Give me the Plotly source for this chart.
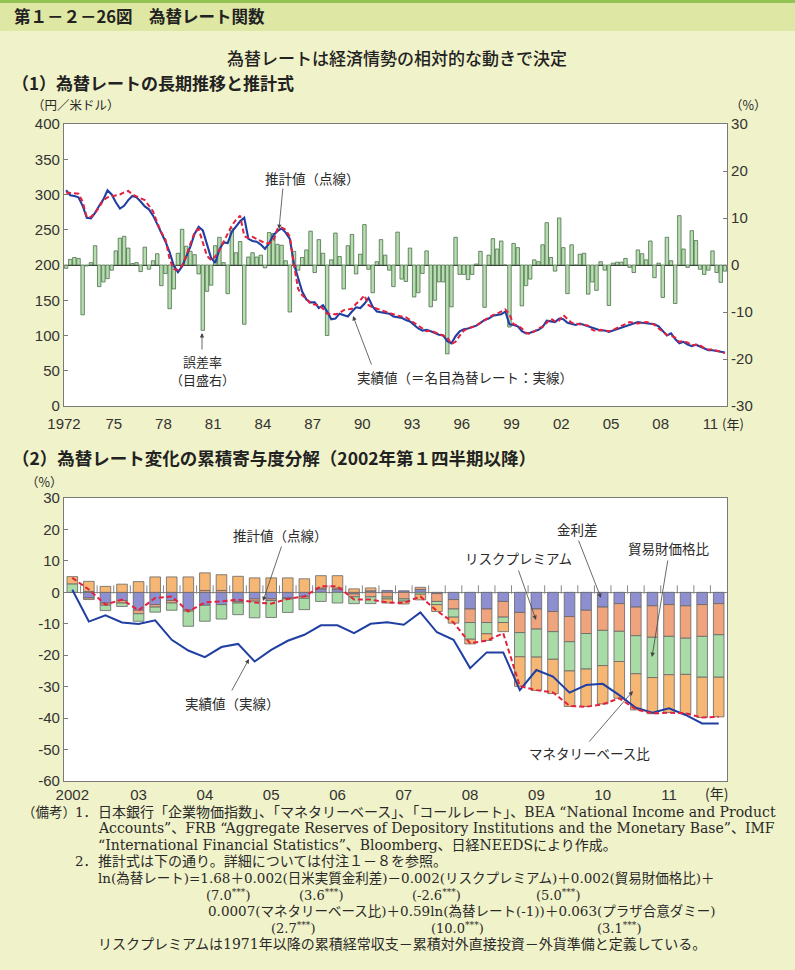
import plotly.graph_objects as go

# ================= DATA =================
# (1) quarterly, 1972Q1 - 2011Q4
top_years = [1972, 1975, 1978, 1981, 1984, 1987, 1990, 1993, 1996, 1999, 2002, 2005, 2008, 2011]
top_year_labels = ["1972", "75", "78", "81", "84", "87", "90", "93", "96", "99", "02", "05", "08", "11"]

error_rate = [  # 誤差率 (%), right axis
    -0.7, 1.2, 1.6, 1.4,     -10.6, -0.2, 0.5, 4.1,    -4.6, -3.6, -2.9, -1.1,   3.0, 5.7, 6.1, 3.6,
    0.3, 0.5, -1.4, 3.8,     -0.9, 0.9, 2.4, -4.4,     -1.8, -9.3, -5.1, 2.5,    7.6, 4.0, 2.9, 2.2,
    -1.9, -13.9, -5.6, -4.3, 4.1, 5.9, 0.5, -6.1,      7.8, 2.6, 5.0, -12.6,     1.7, 2.6, 1.7, 2.1,
    -0.6, 6.9, 6.7, 4.4,     4.2, 0.9, -10.0, 2.9,     -1.1, 1.6, 3.2, 7.2,      -1.6, 5.4, 2.5, -15.0,
    1.1, 6.8, 1.8, -5.1,     4.1, 6.5, -1.9, 2.3,      8.6, -0.9, -5.9, 0.7,     5.4, 2.1, -1.1, -4.6,
    7.0, -3.0, -3.5, 3.6,    -6.8, -5.9, -1.8, 3.0,    -8.9, -7.5, -3.6, -3.6,   -18.9, -8.9, 5.9, -2.0,
    -2.0, -3.1, -2.0, 0.2,   2.9, -9.0, 2.1, 5.6,      3.4, 5.1, 0.0, -13.2,     4.6, 3.7, -8.7, -4.4,
    -3.0, 1.1, 0.7, 4.3,     9.0, 1.6, -1.3, 10.0,     3.7, -6.1, 4.3, 0.0,      2.3, 2.5, -6.2, -3.6,
    -5.4, 0.7, -1.1, -8.6,   0.4, 0.6, 0.6, 1.4,       -0.5, -1.6, 3.2, 2.4,     1.1, 5.1, -2.7, 0.4,
    -6.9, 5.9, 0.9, -8.2,    10.5, 3.4, -0.5, 7.3,     5.2, -0.9, -2.0, -1.1,    3.0, -1.6, -3.7, -1.3,
]

actual_rate = [  # 実績値 (円/米ドル)
    306, 299, 298, 296,  284, 267, 266, 274,  284, 293, 306, 300,  289, 280, 284, 292,
    298, 296, 290, 283,  279, 270, 258, 246,  233, 218, 199, 190,  198, 212, 226, 244,
    254, 249, 228, 210,  203, 222, 232, 231,  247, 255, 262, 267,  237, 234, 233, 229,
    223, 231, 242, 248,  252, 246, 237, 201,  182, 162, 151, 147,  147, 139, 143, 134,
    123, 124, 131, 129,  127, 134, 140, 139,  145, 153, 141, 134,  133, 133, 131, 127,
    126, 125, 122, 120,  115, 110, 107, 108,  106, 103, 101, 100,  92, 89, 99, 106,
    109, 110, 112, 114,  118, 122, 124, 128,  129, 130, 134, 116,  115, 113, 106, 103,
    104, 106, 108, 112,  121, 120, 119, 124,  123, 118, 117, 115,  117, 115, 112, 110,
    108, 107, 107, 105,  107, 109, 111, 114,  116, 118, 119, 118,  117, 117, 116, 113,
    106, 100, 103, 95,   89, 91, 87, 85,      87, 84, 82, 79,      79, 78, 77, 76,
]

estimated_rate = [  # 推計値 (円/米ドル)
    303, 302, 302, 301,  290, 268, 268, 274,  282, 292, 296, 297,  299, 300, 303, 305,
    300, 297, 295, 292,  284, 276, 260, 246,  236, 208, 194, 193,  199, 213, 230, 246,
    251, 231, 213, 207,  212, 221, 233, 244,  256, 264, 270, 241,  238, 240, 237, 233,
    231, 231, 234, 251,  253, 250, 240, 200,  166, 157, 152, 145,  144, 143, 138, 131,
    131, 130, 132, 136,  137, 138, 145, 150,  157, 143, 140, 138,  136, 134, 131, 129,
    128, 127, 126, 122,  118, 113, 110, 106,  107, 104, 102, 100,  97, 88, 91, 100,
    107, 110, 112, 114,  118, 122, 126, 129,  131, 134, 137, 130,  116, 114, 110, 104,
    102, 106, 109, 113,  118, 124, 120, 121,  129, 123, 118, 117,  116, 116, 114, 108,
    106, 108, 107, 106,  108, 111, 114, 117,  119, 118, 117, 118,  119, 118, 115, 110,
    106, 101, 100, 97,   91, 92, 90, 86,      87, 86, 82, 80,      80, 79, 77, 75,
]

# (2) quarterly, 2002Q1 - 2011Q4 (cumulative contributions, %)
bottom_years = [2002, 2003, 2004, 2005, 2006, 2007, 2008, 2009, 2010, 2011]
bottom_year_labels = ["2002", "03", "04", "05", "06", "07", "08", "09", "10", "11"]

interest_diff = [  # 金利差
    0.0, -1.8, -3.4, -2.6,  -5.7, -3.9, -2.6, -5.5,  -4.1, -3.9, -2.9, -2.1,  -2.1, -1.8, -1.3, 1.0,
    0.9, -0.5, 0.5, 0.6,    0.5, 0.9, -0.4, -2.3,    -5.3, -5.3, -2.9, -6.4,  -5.3, -6.1, -7.7, -5.7,
    -4.7, -3.6, -4.7, -4.3, -3.9, -4.3, -3.9, -3.6,
]
risk_premium = [  # リスクプレミアム
    0.0, -0.5, -0.7, -0.8,  -1.1, -0.8, -0.8, -0.5,  0.6, 0.6, -0.5, -0.7,   -0.5, -0.3, -0.6, 0.4,
    0.5, -0.9, -1.4, -1.5,  -2.1, 0.7, -2.5, -3.0,   -4.3, -4.3, -5.0, -6.4,  -6.4, -6.4, -8.0, -7.4,
    -7.4, -8.8, -9.1, -10.0, -10.1, -10.3, -10.1, -9.9,
]
trade_price_ratio = [  # 貿易財価格比
    2.7, 0.3, -1.7, -1.1,   -2.4, -1.6, -2.3, -4.8,  -5.1, -4.6, -3.7, -5.3,  -5.4, -4.3, -3.6, -2.9,
    -3.4, -2.2, -2.2, -0.6, -0.7, -0.6, -1.0, -2.6,  -5.3, -3.6, -1.7, -7.7,  -8.9, -8.8, -9.3, -11.3,
    -11.2, -9.6, -12.1, -12.8, -12.2, -11.5, -13.0, -13.5,
]
monetary_base_ratio = [  # マネタリーベース比
    2.3, 3.2, 1.9, 2.6,     3.4, 4.9, 4.9, 4.9,      5.6, 5.0, 5.1, 4.6,      4.6, 4.6, 4.3, 3.9,
    3.9, 1.1, 0.9, -1.3,    -0.9, -1.8, -2.2, -1.9,  -1.5, -2.1, -2.9, -9.4,  -10.6, -10.9, -11.3, -11.9,
    -12.2, -11.7, -11.5, -11.5, -12.0, -12.4, -12.8, -12.6,
]
actual_cum = [  # 実績値
    0.8, -9.3, -7.3, -9.6,  -10.1, -8.9, -15.1, -18.5,  -20.6, -17.4, -16.4, -22.0,  -18.3, -15.4, -13.5, -10.5,
    -10.5, -13.0, -10.0, -9.5,  -10.3, -6.4, -12.7, -15.1,  -24.1, -19.1, -19.1, -31.1,  -24.7, -26.8, -31.9, -29.5,
    -29.1, -32.7, -36.7, -38.3,  -36.9, -39.0, -41.7, -41.7,
]
estimated_cum = [  # 推計値
    4.6, 0.9, -3.9, -2.3,   -5.7, -1.8, -1.3, -6.1,   -3.2, -2.9, -2.3, -3.2,   -3.6, -2.1, -1.3, 1.9,
    1.9, -2.3, -2.3, -3.2,  -3.4, -1.3, -5.9, -9.6,   -16.2, -15.4, -13.0, -29.8,  -31.1, -31.8, -36.1, -36.4,
    -35.6, -33.7, -37.2, -38.5,  -38.3, -38.5, -39.8, -39.6,
]

# ================= GEOMETRY =================
W, H = 795, 970
L, R, T, B = 64, 727, 124, 781
TOP_BOTTOM_PX, BOT_TOP_PX = 406, 498


def px(x):
    return (x - L) / (R - L)


def py(y):
    return (B - y) / (B - T)


q_top = list(range(len(error_rate)))
q_bot = list(range(len(interest_diff)))

TICKFONT = dict(family="Liberation Sans, Arial, sans-serif", size=15, color="#333333")
JP = "Noto Sans CJK JP, sans-serif"
AXCOL = "#7a7a7a"

fig = go.Figure()

# ---- (1) bars: error rate (right axis)
fig.add_trace(go.Bar(
    x=q_top, y=error_rate, xaxis="x", yaxis="y", width=0.84,
    marker=dict(color="#b6deaf", line=dict(color="#4e6e4c", width=0.8)),
    name="誤差率", showlegend=False))
# ---- (1) lines (left axis)
fig.add_trace(go.Scatter(
    x=q_top, y=actual_rate, xaxis="x", yaxis="y2", mode="lines",
    line=dict(color="#1f3fa2", width=2.1), name="実績値", showlegend=False))
fig.add_trace(go.Scatter(
    x=q_top, y=estimated_rate, xaxis="x", yaxis="y2", mode="lines",
    line=dict(color="#e3213e", width=2, dash="5px,3px"), name="推計値", showlegend=False))

# ---- (2) stacked bars
comp = [
    (interest_diff, "#8d8fd0", "金利差"),
    (risk_premium, "#f0a47e", "リスクプレミアム"),
    (trade_price_ratio, "#a9dba6", "貿易財価格比"),
    (monetary_base_ratio, "#f6b775", "マネタリーベース比"),
]
for vals, col, nm in comp:
    fig.add_trace(go.Bar(
        x=q_bot, y=vals, xaxis="x2", yaxis="y3", width=0.64,
        marker=dict(color=col, line=dict(color="#666666", width=0.8)),
        name=nm, showlegend=False))

# quarter tick marks on the zero line
fig.add_trace(go.Scatter(
    x=[i + 0.5 for i in q_bot[:-1]], y=[0.9] * (len(q_bot) - 1), xaxis="x2", yaxis="y3",
    mode="markers", marker=dict(symbol="line-ns", size=6, line=dict(color="#888888", width=1)),
    showlegend=False, hoverinfo="skip"))

fig.add_trace(go.Scatter(
    x=q_bot, y=actual_cum, xaxis="x2", yaxis="y3", mode="lines",
    line=dict(color="#1f3fa2", width=2), name="実績値", showlegend=False))
fig.add_trace(go.Scatter(
    x=q_bot, y=estimated_cum, xaxis="x2", yaxis="y3", mode="lines",
    line=dict(color="#e3213e", width=2, dash="5px,3px"), name="推計値", showlegend=False))

top_dom = [py(TOP_BOTTOM_PX), 1.0]
bot_dom = [0.0, py(BOT_TOP_PX)]

fig.update_layout(
    width=W, height=H,
    margin=dict(l=L, r=W - R, t=T, b=H - B, autoexpand=False),
    paper_bgcolor="#f0f2c9", plot_bgcolor="#ffffff",
    barmode="relative", showlegend=False,
    font=dict(family=JP, color="#333333"),
    xaxis=dict(domain=[0, 1], anchor="y", range=[-0.5, len(q_top) - 0.5],
               tickvals=[(y - 1972) * 4 - 0.5 for y in top_years], ticktext=top_year_labels,
               tickfont=TICKFONT, showline=True, mirror=True, linecolor=AXCOL, linewidth=1.2,
               ticks="", ticklabelstandoff=4, showgrid=False, zeroline=False),
    yaxis=dict(domain=top_dom, anchor="x", side="right", range=[-30, 30],
               tickvals=[-30, -20, -10, 0, 10, 20, 30],
               ticktext=["-30", "-20", "-10", "0", "10", "20", "30"],
               tickfont=TICKFONT, ticks="inside", ticklen=4, tickcolor=AXCOL,
               showline=True, mirror=True, linecolor=AXCOL, linewidth=1.2,
               showgrid=False, zeroline=True, zerolinecolor="#333333", zerolinewidth=1),
    yaxis2=dict(overlaying="y", anchor="x", side="left", range=[0, 400],
                tickvals=list(range(0, 401, 50)), tickfont=TICKFONT,
                ticks="inside", ticklen=4, tickcolor=AXCOL,
                showline=True, linecolor=AXCOL, linewidth=1.2, showgrid=False, zeroline=False),
    xaxis2=dict(domain=[0, 1], anchor="y3", range=[-0.5, len(q_bot) - 0.5],
                tickvals=[(y - 2002) * 4 for y in bottom_years], ticktext=bottom_year_labels,
                tickfont=TICKFONT, showline=True, mirror=True, linecolor=AXCOL, linewidth=1.2,
                ticks="", showgrid=False, zeroline=False),
    yaxis3=dict(domain=bot_dom, anchor="x2", range=[-60, 30],
                tickvals=list(range(-60, 31, 10)),
                ticktext=[str(v) for v in range(-60, 31, 10)],
                tickfont=TICKFONT, ticks="inside", ticklen=4, tickcolor=AXCOL,
                showline=True, mirror=True, linecolor=AXCOL, linewidth=1.2,
                showgrid=False, zeroline=True, zerolinecolor="#888888", zerolinewidth=1),
)

# header band
fig.add_shape(type="rect", xref="paper", yref="paper", x0=px(0), x1=px(W), y0=py(31), y1=py(0),
              fillcolor="#dee7a3", line=dict(width=0), layer="below")
fig.add_shape(type="rect", xref="paper", yref="paper", x0=px(0), x1=px(W), y0=py(3), y1=py(0),
              fillcolor="#93c355", line=dict(width=0), layer="below")

ann = []


def text(x, y, s, size=14, anchor="left", color="#2a2a2a", family=JP, weight=None):
    f = dict(size=size, color=color, family=family)
    if weight:
        f["weight"] = weight
    ann.append(dict(x=px(x), y=py(y), xref="paper", yref="paper", text=s, showarrow=False,
                    xanchor=anchor, yanchor="middle", font=f))


def arrow(tail, head):
    ann.append(dict(x=px(head[0]), y=py(head[1]), xref="paper", yref="paper", text="",
                    showarrow=True, ax=tail[0] - head[0], ay=tail[1] - head[1],
                    arrowhead=2, arrowsize=1.1, arrowwidth=0.8, arrowcolor="#444444"))


# titles
text(12, 16, "第１－２－26図　為替レート関数", size=16.5, color="#222222", weight=600)
text(397, 57, "為替レートは経済情勢の相対的な動きで決定", size=17, anchor="center", color="#222222", weight=500)
text(10, 83, "（1）為替レートの長期推移と推計式", size=17, color="#222222", weight=600)
text(30, 104, "（円／米ドル）", size=12.5)
text(748, 104, "（%）", size=12.5, anchor="center")
text(720, 423, "(年)", size=13)
text(10, 457, "（2）為替レート変化の累積寄与度分解（2002年第１四半期以降）", size=17.5, color="#222222", weight=600)
text(44, 481, "（%）", size=12.5, anchor="center")
text(716, 793, "(年)", size=14, anchor="center")

# annotations (1)
text(312, 178, "推計値（点線）", size=13.5, anchor="center")
arrow((283, 187), (279, 229))
text(202, 361, "誤差率", size=13, anchor="center")
text(202, 379, "（目盛右）", size=13, anchor="center")
arrow((202, 351), (202, 333))
text(355, 377, "実績値（＝名目為替レート：実線）", size=13.5)
arrow((372, 366), (353, 316))

# annotations (2)
text(280, 535, "推計値（点線）", size=13.5, anchor="center")
arrow((282, 545), (263, 601))
text(232, 703, "実績値（実線）", size=13.5, anchor="center")
arrow((231, 692), (249, 659))
text(518, 558, "リスクプレミアム", size=13.5, anchor="center")
arrow((518, 569), (536, 620))
text(577, 529, "金利差", size=13.5, anchor="center")
arrow((578, 539), (601, 598))
text(669, 548, "貿易財価格比", size=13.5, anchor="center")
arrow((668, 559), (652, 657))
text(589, 753, "マネタリーベース比", size=13.5, anchor="center")
arrow((588, 743), (633, 691))

# notes
NF = "DejaVu Serif, Noto Sans CJK JP, serif"
text(20, 812, "（備考）", size=13.5, family=NF)
text(73, 812, "1．", size=13.5, family=NF)
text(96, 812, "日本銀行「企業物価指数」、「マネタリーベース」、「コールレート」、BEA “National Income and Product", size=14, family=NF)
text(96, 828, "Accounts”、FRB “Aggregate Reserves of Depository Institutions and the Monetary Base”、IMF", size=14, family=NF)
text(96, 845, "“International Financial Statistics”、Bloomberg、日経NEEDSにより作成。", size=14, family=NF)
text(73, 861, "2．", size=13.5, family=NF)
text(96, 861, "推計式は下の通り。詳細については付注１－８を参照。", size=14, family=NF)
text(96, 878, "ln(為替レート)=1.68＋0.002(日米実質金利差)－0.002(リスクプレミアム)＋0.002(貿易財価格比)＋", size=13.5, family=NF)
for xc, s in [(228, "(7.0<sup>***</sup>)"), (321, "(3.6<sup>***</sup>)"), (436, "(-2.6<sup>***</sup>)"), (558, "(5.0<sup>***</sup>)")]:
    text(xc, 895, s, size=13, anchor="center", family=NF)
text(206, 911, "0.0007(マネタリーベース比)＋0.59ln(為替レート(-1))＋0.063(プラザ合意ダミー)", size=13.5, family=NF)
for xc, s in [(293, "(2.7<sup>***</sup>)"), (457, "(10.0<sup>***</sup>)"), (619, "(3.1<sup>***</sup>)")]:
    text(xc, 928, s, size=13, anchor="center", family=NF)
text(96, 944, "リスクプレミアムは1971年以降の累積経常収支－累積対外直接投資－外貨準備と定義している。", size=14, family=NF)

fig.update_layout(annotations=ann)

fig.write_html("out.html", config={"displayModeBar": False},
               post_script="document.body.style.margin='0';document.body.style.padding='0';")
